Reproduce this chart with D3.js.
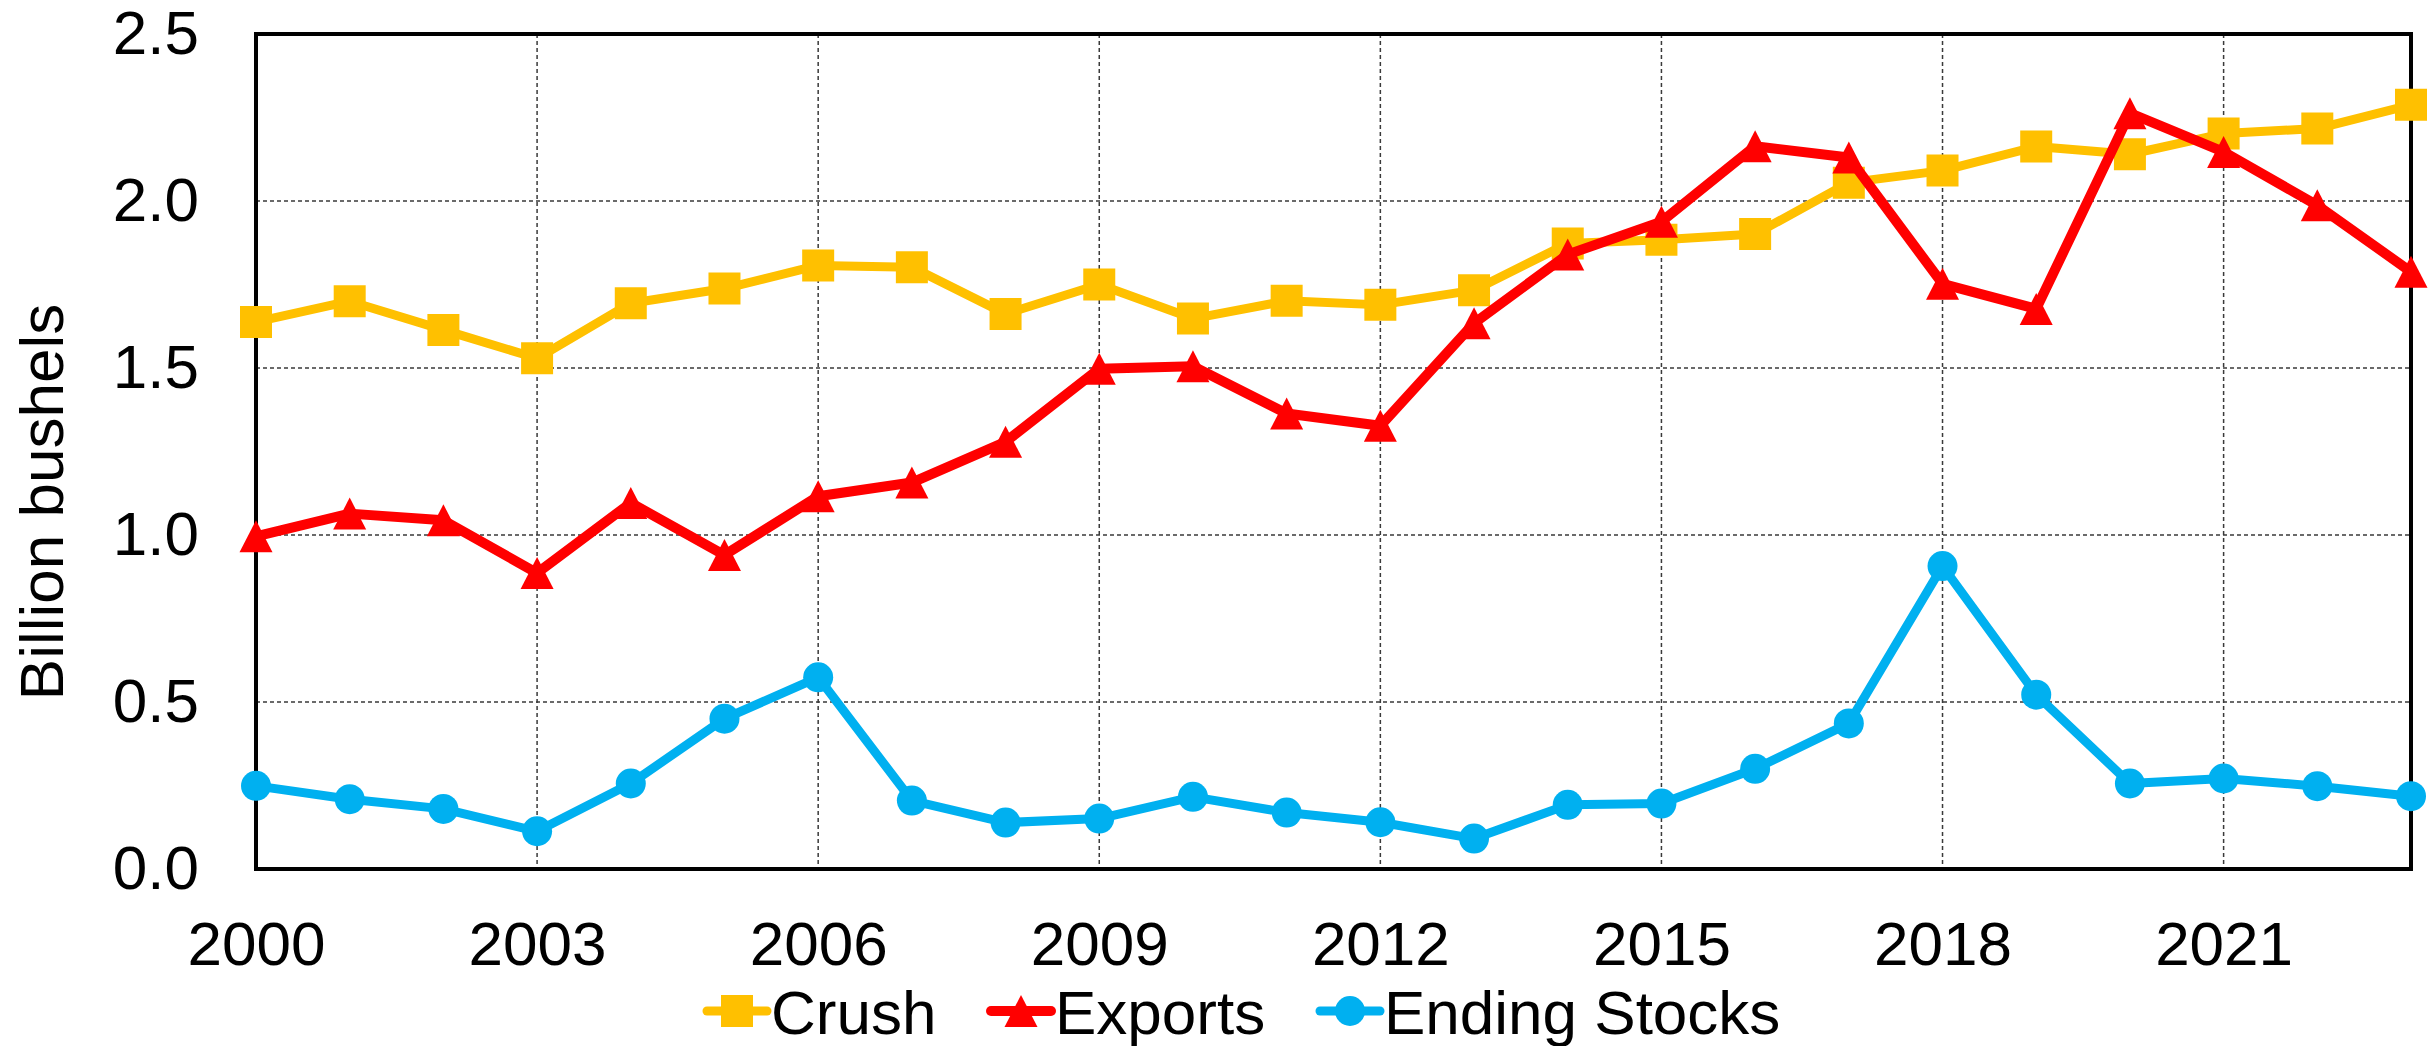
<!DOCTYPE html>
<html>
<head>
<meta charset="utf-8">
<script src="https://cdn.jsdelivr.net/npm/d3@7"></script>
<style>
  body { margin: 0; background: #fff; }
  text { font-family: "Liberation Sans", Arial, sans-serif; fill: #000; }
</style>
</head>
<body>
<svg id="chart" width="2433" height="1046"></svg>
<script>
// data (billion bushels)
const years = d3.range(2000, 2024);
const crush = [1.638, 1.700, 1.614, 1.529, 1.694, 1.738, 1.807, 1.802, 1.662, 1.750, 1.648, 1.701,
  1.689, 1.733, 1.873, 1.884, 1.901, 2.055, 2.091, 2.163, 2.140, 2.202, 2.217, 2.288];
const exportsData = [0.996, 1.064, 1.044, 0.886, 1.096, 0.940, 1.116, 1.157, 1.279, 1.498, 1.505, 1.364,
  1.327, 1.634, 1.840, 1.938, 2.164, 2.130, 1.752, 1.677, 2.263, 2.147, 1.987, 1.788];
const endingStocks = [0.249, 0.209, 0.180, 0.113, 0.256, 0.450, 0.574, 0.205, 0.139, 0.151, 0.216, 0.169,
  0.140, 0.091, 0.192, 0.196, 0.300, 0.436, 0.907, 0.522, 0.256, 0.271, 0.248, 0.218];
const xTicks = [2000, 2003, 2006, 2009, 2012, 2015, 2018, 2021];
const yTicks = [0, 0.5, 1.0, 1.5, 2.0, 2.5];

const series = [
  { name: "Crush", values: crush, color: "#FFC000", marker: "square", width: 9 },
  { name: "Exports", values: exportsData, color: "#FF0000", marker: "triangle", width: 10 },
  { name: "Ending Stocks", values: endingStocks, color: "#00B0F0", marker: "circle", width: 9 }
];

const svg = d3.select("#chart");
const plotLeft = 256, plotRight = 2411, plotTop = 34, plotBottom = 869;

const x = d3.scaleLinear().domain([2000, 2023]).range([plotLeft, plotRight]);
const y = d3.scaleLinear().domain([0, 2.5]).range([plotBottom, plotTop]);

// markers
function markerPath(type) {
  if (type == "square") return d3.symbol(d3.symbolSquare, 32 * 32)();
  if (type == "circle") return d3.symbol(d3.symbolCircle, Math.PI * 15 * 15)();
  // triangle centred on its bounding box
  const w = 33, h = 32;
  return `M0,${-h / 2}L${w / 2},${h / 2}L${-w / 2},${h / 2}Z`;
}

// gridlines
const grid = svg.append("g");
grid.selectAll("line.h")
  .data(yTicks.filter(d => d > 0 && d < 2.5))
  .join("line")
  .attr("class", "h")
  .attr("x1", plotLeft).attr("x2", plotRight)
  .attr("y1", d => y(d)).attr("y2", d => y(d))
  .attr("stroke", "#3a3a3a").attr("stroke-width", 1.5).attr("stroke-dasharray", "4,3");
grid.selectAll("line.v")
  .data(xTicks.filter(d => d > 2000))
  .join("line")
  .attr("class", "v")
  .attr("x1", d => x(d)).attr("x2", d => x(d))
  .attr("y1", plotTop).attr("y2", plotBottom)
  .attr("stroke", "#3a3a3a").attr("stroke-width", 1.5).attr("stroke-dasharray", "4,3");

// frame
svg.append("rect")
  .attr("x", plotLeft).attr("y", plotTop)
  .attr("width", plotRight - plotLeft).attr("height", plotBottom - plotTop)
  .attr("fill", "none").attr("stroke", "#000").attr("stroke-width", 4);

// axes (labels only, as in the original)
const yAxis = svg.append("g")
  .attr("transform", `translate(${plotLeft},0)`)
  .call(d3.axisLeft(y).tickValues(yTicks).tickFormat(d3.format(".1f")).tickSize(0).tickPadding(57));
const xAxis = svg.append("g")
  .attr("transform", `translate(0,${plotBottom})`)
  .call(d3.axisBottom(x).tickValues(xTicks).tickFormat(d3.format("d")).tickSize(0).tickPadding(52));
[yAxis, xAxis].forEach(a => {
  a.select(".domain").remove();
  a.selectAll("text")
    .attr("fill", "#000")
    .style("font-size", "62px")
    .style("font-family", '"Liberation Sans", Arial, sans-serif');
});

// y title
svg.append("text")
  .attr("transform", "translate(63,502) rotate(-90)")
  .attr("text-anchor", "middle")
  .style("font-size", "62px")
  .text("Billion bushels");

// series
const line = d3.line()
  .x((d, i) => x(years[i]))
  .y(d => y(d));

series.forEach(s => {
  const g = svg.append("g");
  g.append("path")
    .attr("d", line(s.values))
    .attr("fill", "none")
    .attr("stroke", s.color)
    .attr("stroke-width", s.width)
    .attr("stroke-linejoin", "round");
  g.selectAll("path.m")
    .data(s.values)
    .join("path")
    .attr("class", "m")
    .attr("d", markerPath(s.marker))
    .attr("transform", (d, i) => `translate(${x(years[i])},${y(d)})`)
    .attr("fill", s.color);
});

// legend
const legendX = [737, 1021, 1350];
const legend = svg.append("g");
series.forEach((s, i) => {
  const g = legend.append("g").attr("transform", `translate(${legendX[i]},1011)`);
  g.append("line")
    .attr("x1", -30).attr("x2", 30)
    .attr("stroke", s.color).attr("stroke-width", s.width)
    .attr("stroke-linecap", "round");
  g.append("path").attr("d", markerPath(s.marker)).attr("fill", s.color);
  g.append("text")
    .attr("x", 34).attr("y", 23)
    .style("font-size", "62px")
    .text(s.name);
});
</script>
</body>
</html>
